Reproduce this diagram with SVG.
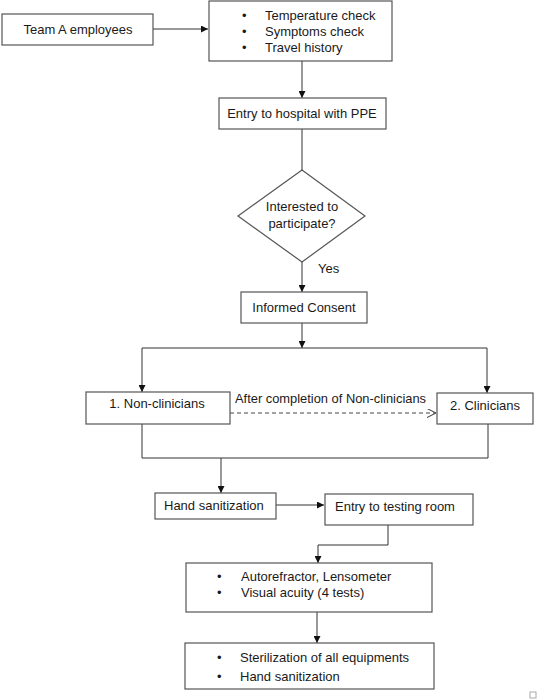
<svg xmlns="http://www.w3.org/2000/svg" width="539" height="700" viewBox="0 0 539 700">
<style>
.box{fill:#fff;stroke:#555;stroke-width:1.2}
.t{font-family:"Liberation Sans",Arial,sans-serif;font-size:13px;fill:#1a1a1a}
.c{text-anchor:middle}
.ln{fill:none;stroke:#333;stroke-width:1}
.dash{fill:none;stroke:#444;stroke-width:1;stroke-dasharray:4,3}
</style>
<defs>
<marker id="ah" viewBox="0 0 10 10" refX="10" refY="5" markerWidth="7" markerHeight="7" markerUnits="userSpaceOnUse" orient="auto"><path d="M0,0 L10,5 L0,10 z" fill="#111"/></marker>
<marker id="oh" viewBox="0 0 10 10" refX="10" refY="5" markerWidth="9" markerHeight="9" markerUnits="userSpaceOnUse" orient="auto"><path d="M0,0 L10,5 L0,10" fill="none" stroke="#444" stroke-width="1.2"/></marker>
</defs>
<rect width="539" height="700" fill="#fff"/>
<g id="connectors">
<line class="ln" x1="153" y1="29" x2="208" y2="29" marker-end="url(#ah)"/>
<line class="ln" x1="302" y1="61" x2="302" y2="98" marker-end="url(#ah)"/>
<line class="ln" x1="302" y1="129" x2="302" y2="170"/>
<line class="ln" x1="302" y1="262" x2="302" y2="292" marker-end="url(#ah)"/>
<line class="ln" x1="302" y1="323" x2="302" y2="348" marker-end="url(#ah)"/>
<path class="ln" d="M142,348 H487"/>
<line class="ln" x1="142" y1="348" x2="142" y2="392" marker-end="url(#ah)"/>
<line class="ln" x1="487" y1="348" x2="487" y2="393" marker-end="url(#ah)"/>
<line class="dash" x1="230" y1="413" x2="436" y2="413" marker-end="url(#oh)"/>
<path class="ln" d="M142,424 V458 H488 V424"/>
<line class="ln" x1="221" y1="458" x2="221" y2="493" marker-end="url(#ah)"/>
<line class="ln" x1="276" y1="505" x2="324" y2="505" marker-end="url(#ah)"/>
<path class="ln" d="M388,525 V545 H318 V563" marker-end="url(#ah)"/>
<line class="ln" x1="317" y1="612" x2="317" y2="643" marker-end="url(#ah)"/>
</g>
<g id="team-a">
<rect class="box" x="2" y="14" width="151" height="31"/>
<text class="t c" x="78" y="34">Team A employees</text>
</g>
<g id="checks">
<rect class="box" x="209" y="1" width="183" height="60"/>
<text class="t" x="242" y="20">•</text><text class="t" x="265" y="20">Temperature check</text>
<text class="t" x="242" y="36">•</text><text class="t" x="265" y="36">Symptoms check</text>
<text class="t" x="242" y="52">•</text><text class="t" x="265" y="52">Travel history</text>
</g>
<g id="entry-hospital">
<rect class="box" x="219" y="98" width="167" height="31"/>
<text class="t c" x="302" y="118">Entry to hospital with PPE</text>
</g>
<g id="decision">
<polygon class="box" points="302,170 365,216 302,262 238,216"/>
<text class="t c" x="302" y="211">Interested to</text>
<text class="t c" x="302" y="228">participate?</text>
<text class="t" x="318" y="273">Yes</text>
</g>
<g id="consent">
<rect class="box" x="241" y="292" width="126" height="31"/>
<text class="t c" x="304" y="312">Informed Consent</text>
</g>
<g id="non-clinicians">
<rect class="box" x="86" y="392" width="144" height="32"/>
<text class="t c" x="157" y="408">1. Non-clinicians</text>
</g>
<g id="after-label">
<text class="t" x="235" y="403" textLength="191" lengthAdjust="spacingAndGlyphs">After completion of Non-clinicians</text>
</g>
<g id="clinicians">
<rect class="box" x="437" y="393" width="96" height="31"/>
<text class="t c" x="485" y="410">2. Clinicians</text>
</g>
<g id="hand-sanitization">
<rect class="box" x="155" y="493" width="121" height="26"/>
<text class="t" x="164" y="510">Hand sanitization</text>
</g>
<g id="testing-room">
<rect class="box" x="325" y="494" width="148" height="31"/>
<text class="t" x="335" y="511">Entry to testing room</text>
</g>
<g id="tests">
<rect class="box" x="186" y="563" width="246" height="49"/>
<text class="t" x="217" y="581">•</text><text class="t" x="241" y="581">Autorefractor, Lensometer</text>
<text class="t" x="217" y="597">•</text><text class="t" x="241" y="597">Visual acuity (4 tests)</text>
</g>
<g id="sterilization">
<rect class="box" x="185" y="643" width="249" height="46"/>
<text class="t" x="217" y="662">•</text><text class="t" x="240" y="662">Sterilization of all equipments</text>
<text class="t" x="217" y="681">•</text><text class="t" x="240" y="681">Hand sanitization</text>
</g>
<rect x="530" y="692" width="6" height="6" fill="none" stroke="#aaa" stroke-width="1"/>
</svg>
